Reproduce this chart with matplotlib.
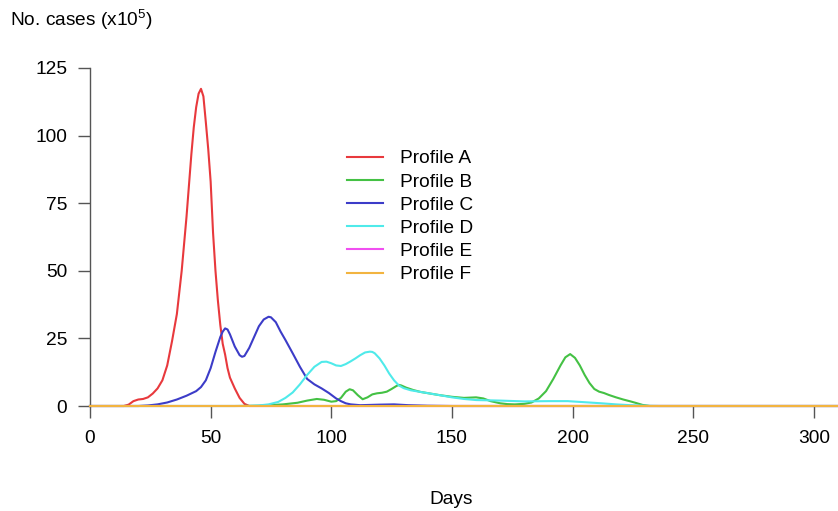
import matplotlib
matplotlib.use("Agg")
import matplotlib.pyplot as plt

plt.rcParams['font.family'] = ['Liberation Sans', 'DejaVu Sans']
plt.rcParams['mathtext.default'] = 'regular'

# values (days, cases x10^5)
days_a = [0, 14, 16, 18, 20, 22, 24, 26, 28, 30, 32, 34, 36, 38, 40, 42, 43, 44, 45, 46,
          47, 48, 49, 50, 51, 52, 53, 54, 55, 56, 57, 58, 60, 62, 64, 66, 310]
cases_a = [0, 0, 0.5, 1.8, 2.4, 2.6, 3.2, 4.6, 6.5, 9.5, 15, 24, 34, 50, 70, 93, 103, 110.5, 115.5, 117.3,
           114.5, 105, 95, 83, 64, 50, 39, 30, 23, 19, 14, 10.5, 6.5, 3, 0.8, 0, 0]

days_b = [0, 60, 70, 80, 86, 90, 94, 97, 100, 102, 104, 106, 107.6, 109, 111, 113, 115, 117,
          119, 121, 123, 125, 127, 128, 129, 131, 134, 137, 141, 145, 150, 155, 160, 163, 166,
          170, 173, 176, 180, 183, 186, 189, 192, 195, 197, 199, 201, 203, 205, 207, 209, 211,
          213, 215, 218, 221, 224, 226, 229, 232, 310]
cases_b = [0, 0, 0.1, 0.6, 1.2, 2, 2.6, 2.3, 1.6, 1.8, 3, 5.3, 6.2, 5.8, 4, 2.5, 3.2, 4.3,
           4.7, 4.9, 5.3, 6.3, 7.4, 7.8, 7.6, 6.8, 5.9, 5.2, 4.6, 4, 3.4, 3, 3.2, 2.8, 1.8,
           1, 0.7, 0.6, 0.8, 1.3, 2.8, 5.5, 10, 15, 18, 19.2, 17.8, 15, 11.5, 8.5, 6.3, 5.3,
           4.8, 4.1, 3.2, 2.4, 1.7, 1.2, 0.4, 0, 0]

days_c = [0, 20, 24, 28, 32, 36, 40, 44, 46, 48, 50, 52, 54, 55, 56, 57, 58, 60, 62, 63, 64,
          66, 68, 70, 72, 74, 75, 77, 79, 81, 84, 87, 90, 93, 96, 99, 102, 104, 106, 108, 112,
          120, 126, 132, 140, 150, 310]
cases_c = [0, 0, 0.2, 0.6, 1.3, 2.4, 3.8, 5.5, 7, 9.5, 14, 20, 25.5, 27.5, 28.7, 28.3, 26.5, 22, 18.8, 18.2, 18.5,
           21.5, 25.5, 29.5, 32, 33, 32.8, 31, 27.5, 24.4, 19.5, 14.5, 10, 8, 6.5, 4.8, 2.8, 1.8, 1.0, 0.6, 0.3,
           0.5, 0.6, 0.3, 0.1, 0, 0]

days_d = [0, 65, 70, 74, 78, 81, 84, 87, 90, 93, 96, 98, 100, 102, 104, 106, 108, 110, 112, 114,
          116, 117, 118, 120, 122, 124, 126, 128, 130, 133, 137, 141, 145, 150, 155, 160, 170, 180,
          190, 198, 205, 212, 218, 224, 230, 236, 310]
cases_d = [0, 0, 0.2, 0.6, 1.5, 3, 5, 8, 11.5, 14.5, 16.3, 16.4, 15.8, 15, 14.8, 15.5, 16.5, 17.6, 18.8, 19.8,
           20.1, 20, 19.5, 17.6, 15, 12, 9.5, 7.6, 6.6, 5.8, 5.2, 4.6, 4, 3.2, 2.6, 2.2, 2.0, 1.7,
           1.8, 1.8, 1.4, 1.0, 0.6, 0.3, 0.1, 0, 0]

days_e = [0, 310]
cases_e = [0, 0]
days_f = [0, 310]
cases_f = [0, 0]

labels = ['Profile A', 'Profile B', 'Profile C', 'Profile D', 'Profile E', 'Profile F']
colors = ['#e8393d', '#44c144', '#3c3cc8', '#4feaea', '#f04ff0', '#f2b440']
series = [(days_a, cases_a), (days_b, cases_b), (days_c, cases_c),
          (days_d, cases_d), (days_e, cases_e), (days_f, cases_f)]

fs = 13.8

fig = plt.figure(figsize=(8.38, 5.11), dpi=100)
ax = fig.add_axes([90/838, 105/511, 748/838, 338/511])

for (d, c), lab, col in zip(series, labels, colors):
    ax.plot(d, c, color=col, lw=1.5, label=lab, clip_on=False, zorder=3,
            solid_joinstyle='round')

ax.set_xlim(0, 310)
ax.set_ylim(0, 125)
ax.set_xticks([0, 50, 100, 150, 200, 250, 300])
ax.set_yticks([0, 25, 50, 75, 100, 125])

axis_col = '#555555'
for s in ['top', 'right']:
    ax.spines[s].set_visible(False)
ax.spines['left'].set_color(axis_col)
ax.spines['left'].set_bounds(0, 125)
ax.spines['left'].set_linewidth(1.0)
ax.spines['bottom'].set_visible(False)
ax.tick_params(axis='both', colors=axis_col, labelcolor='black', labelsize=fs,
               length=8.5, width=1.0, direction='out', pad=8)
ax.tick_params(axis='x', pad=9)

leg = ax.legend(loc='upper left', bbox_to_anchor=(347/838, 1 - 150/511),
                bbox_transform=fig.transFigure, frameon=False, fontsize=fs,
                handlelength=1.9, handletextpad=0.85, labelspacing=0.3,
                borderpad=0, borderaxespad=0)

fig.text(10/838, 1 - 26/511, 'No. cases (x10$^{5}$)', fontsize=fs, va='baseline', ha='left')
fig.text(451/838, 1 - 500/511, 'Days', fontsize=fs, va='center', ha='center')

fig.savefig('out.png', dpi=100)
